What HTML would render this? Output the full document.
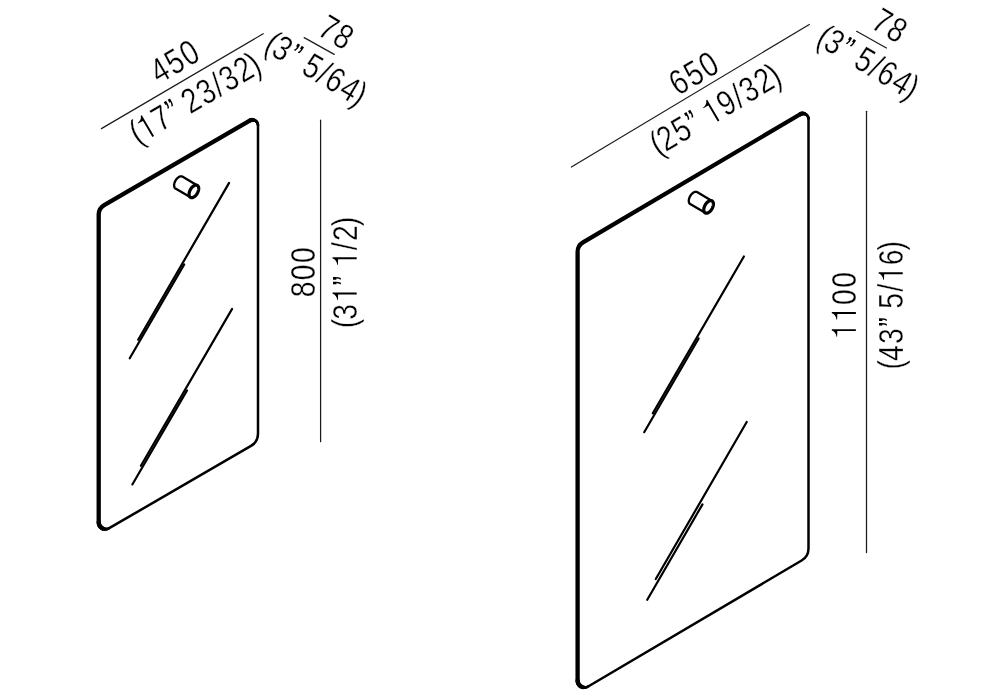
<!DOCTYPE html>
<html><head><meta charset="utf-8"><style>
html,body{margin:0;padding:0;background:#fff;width:1000px;height:700px;overflow:hidden}
svg{display:block;will-change:transform}
text{font-family:"Liberation Sans",sans-serif;fill:#000;stroke:#fff;stroke-width:0.35px}
</style></head><body>
<svg width="1000" height="700" viewBox="0 0 1000 700">
<path d="M98.70 214.54 C98.70 210.61 100.79 206.99 104.18 205.02 L249.74 120.60 C253.41 118.47 258.00 121.12 258.00 125.35 L258.00 433.84 C258.00 438.83 255.34 443.45 251.02 445.95 L109.21 528.20 C104.55 530.91 98.70 527.54 98.70 522.15 Z" fill="none" stroke="#000" stroke-width="2.50" stroke-linejoin="round"/><path d="M98.70 522.15 L98.70 214.54 C98.70 210.61 100.79 206.99 104.18 205.02 L249.74 120.60" fill="none" stroke="#000" stroke-width="4.30" stroke-linecap="round" stroke-linejoin="round"/><line x1="249.74" y1="120.60" x2="250.67" y2="120.16" stroke="#000" stroke-width="4.28" stroke-linecap="round"/><line x1="250.67" y1="120.16" x2="251.63" y2="119.92" stroke="#000" stroke-width="4.13" stroke-linecap="round"/><line x1="251.63" y1="119.92" x2="252.58" y2="119.85" stroke="#000" stroke-width="3.88" stroke-linecap="round"/><line x1="252.58" y1="119.85" x2="253.51" y2="119.94" stroke="#000" stroke-width="3.57" stroke-linecap="round"/><line x1="253.51" y1="119.94" x2="254.41" y2="120.19" stroke="#000" stroke-width="3.23" stroke-linecap="round"/><line x1="254.41" y1="120.19" x2="255.25" y2="120.59" stroke="#000" stroke-width="2.92" stroke-linecap="round"/><line x1="255.25" y1="120.59" x2="256.01" y2="121.12" stroke="#000" stroke-width="2.67" stroke-linecap="round"/><line x1="256.01" y1="121.12" x2="256.67" y2="121.76" stroke="#000" stroke-width="2.52" stroke-linecap="round"/><line x1="256.67" y1="121.76" x2="257.23" y2="122.52" stroke="#000" stroke-width="2.50" stroke-linecap="round"/><line x1="257.23" y1="122.52" x2="257.64" y2="123.38" stroke="#000" stroke-width="2.50" stroke-linecap="round"/><line x1="257.64" y1="123.38" x2="257.91" y2="124.33" stroke="#000" stroke-width="2.50" stroke-linecap="round"/><line x1="257.91" y1="124.33" x2="258.00" y2="125.35" stroke="#000" stroke-width="2.50" stroke-linecap="round"/><line x1="109.21" y1="528.20" x2="108.02" y2="528.76" stroke="#000" stroke-width="2.50" stroke-linecap="round"/><line x1="108.02" y1="528.76" x2="106.81" y2="529.07" stroke="#000" stroke-width="2.52" stroke-linecap="round"/><line x1="106.81" y1="529.07" x2="105.60" y2="529.16" stroke="#000" stroke-width="2.76" stroke-linecap="round"/><line x1="105.60" y1="529.16" x2="104.41" y2="529.03" stroke="#000" stroke-width="3.19" stroke-linecap="round"/><line x1="104.41" y1="529.03" x2="103.27" y2="528.72" stroke="#000" stroke-width="3.68" stroke-linecap="round"/><line x1="103.27" y1="528.72" x2="102.21" y2="528.21" stroke="#000" stroke-width="4.09" stroke-linecap="round"/><line x1="102.21" y1="528.21" x2="101.24" y2="527.54" stroke="#000" stroke-width="4.30" stroke-linecap="round"/><line x1="101.24" y1="527.54" x2="100.39" y2="526.72" stroke="#000" stroke-width="4.30" stroke-linecap="round"/><line x1="100.39" y1="526.72" x2="99.69" y2="525.75" stroke="#000" stroke-width="4.30" stroke-linecap="round"/><line x1="99.69" y1="525.75" x2="99.15" y2="524.66" stroke="#000" stroke-width="4.30" stroke-linecap="round"/><line x1="99.15" y1="524.66" x2="98.82" y2="523.45" stroke="#000" stroke-width="4.30" stroke-linecap="round"/><line x1="98.82" y1="523.45" x2="98.70" y2="522.15" stroke="#000" stroke-width="4.30" stroke-linecap="round"/>
<path d="M577.60 251.88 C577.60 247.99 579.66 244.39 583.01 242.41 L800.21 114.26 C803.87 112.10 808.50 114.74 808.50 119.00 L808.50 548.47 C808.50 553.43 805.88 558.01 801.61 560.53 L588.16 686.47 C583.49 689.22 577.60 685.86 577.60 680.44 Z" fill="none" stroke="#000" stroke-width="2.50" stroke-linejoin="round"/><path d="M577.60 680.44 L577.60 251.88 C577.60 247.99 579.66 244.39 583.01 242.41 L800.21 114.26" fill="none" stroke="#000" stroke-width="4.30" stroke-linecap="round" stroke-linejoin="round"/><line x1="800.21" y1="114.26" x2="801.14" y2="113.82" stroke="#000" stroke-width="4.28" stroke-linecap="round"/><line x1="801.14" y1="113.82" x2="802.09" y2="113.57" stroke="#000" stroke-width="4.13" stroke-linecap="round"/><line x1="802.09" y1="113.57" x2="803.05" y2="113.49" stroke="#000" stroke-width="3.88" stroke-linecap="round"/><line x1="803.05" y1="113.49" x2="803.99" y2="113.58" stroke="#000" stroke-width="3.57" stroke-linecap="round"/><line x1="803.99" y1="113.58" x2="804.88" y2="113.83" stroke="#000" stroke-width="3.23" stroke-linecap="round"/><line x1="804.88" y1="113.83" x2="805.73" y2="114.22" stroke="#000" stroke-width="2.92" stroke-linecap="round"/><line x1="805.73" y1="114.22" x2="806.49" y2="114.75" stroke="#000" stroke-width="2.67" stroke-linecap="round"/><line x1="806.49" y1="114.75" x2="807.16" y2="115.40" stroke="#000" stroke-width="2.52" stroke-linecap="round"/><line x1="807.16" y1="115.40" x2="807.72" y2="116.16" stroke="#000" stroke-width="2.50" stroke-linecap="round"/><line x1="807.72" y1="116.16" x2="808.14" y2="117.02" stroke="#000" stroke-width="2.50" stroke-linecap="round"/><line x1="808.14" y1="117.02" x2="808.41" y2="117.97" stroke="#000" stroke-width="2.50" stroke-linecap="round"/><line x1="808.41" y1="117.97" x2="808.50" y2="119.00" stroke="#000" stroke-width="2.50" stroke-linecap="round"/><line x1="588.16" y1="686.47" x2="586.97" y2="687.03" stroke="#000" stroke-width="2.50" stroke-linecap="round"/><line x1="586.97" y1="687.03" x2="585.75" y2="687.36" stroke="#000" stroke-width="2.52" stroke-linecap="round"/><line x1="585.75" y1="687.36" x2="584.54" y2="687.45" stroke="#000" stroke-width="2.76" stroke-linecap="round"/><line x1="584.54" y1="687.45" x2="583.35" y2="687.34" stroke="#000" stroke-width="3.19" stroke-linecap="round"/><line x1="583.35" y1="687.34" x2="582.20" y2="687.02" stroke="#000" stroke-width="3.68" stroke-linecap="round"/><line x1="582.20" y1="687.02" x2="581.13" y2="686.52" stroke="#000" stroke-width="4.09" stroke-linecap="round"/><line x1="581.13" y1="686.52" x2="580.15" y2="685.85" stroke="#000" stroke-width="4.30" stroke-linecap="round"/><line x1="580.15" y1="685.85" x2="579.30" y2="685.03" stroke="#000" stroke-width="4.30" stroke-linecap="round"/><line x1="579.30" y1="685.03" x2="578.59" y2="684.06" stroke="#000" stroke-width="4.30" stroke-linecap="round"/><line x1="578.59" y1="684.06" x2="578.06" y2="682.96" stroke="#000" stroke-width="4.30" stroke-linecap="round"/><line x1="578.06" y1="682.96" x2="577.72" y2="681.75" stroke="#000" stroke-width="4.30" stroke-linecap="round"/><line x1="577.72" y1="681.75" x2="577.60" y2="680.44" stroke="#000" stroke-width="4.30" stroke-linecap="round"/>
<path d="M175.47 188.53 L175.22 188.35 L174.98 188.14 L174.78 187.90 L174.59 187.62 L174.44 187.31 L174.31 186.97 L174.21 186.61 L174.14 186.22 L174.10 185.80 L174.08 185.37 L174.10 184.92 L174.15 184.46 L174.23 183.98 L174.33 183.50 L174.47 183.01 L174.63 182.51 L174.81 182.02 L175.03 181.53 L175.26 181.05 L175.52 180.58 L175.80 180.11 L176.10 179.67 L176.42 179.24 L176.75 178.83 L177.10 178.45 L177.45 178.09 L177.82 177.76 L178.19 177.45 L178.57 177.18 L178.94 176.95 L179.32 176.74 L179.70 176.58 L180.07 176.45 L180.43 176.36 L180.79 176.30 L181.13 176.29 L181.46 176.31 L181.77 176.37 L182.07 176.47 L182.34 176.61 M175.47 188.53 L190.46 197.36 M182.34 176.61 L197.34 185.44" fill="none" stroke="#000" stroke-width="2.30" stroke-linecap="round" stroke-linejoin="round"/><path d="M198.72 188.55 L198.70 189.16 L198.62 189.78 L198.49 190.42 L198.31 191.08 L198.08 191.74 L197.80 192.39 L197.48 193.03 L197.13 193.66 L196.73 194.26 L196.31 194.83 L195.86 195.36 L195.39 195.85 L194.90 196.29 L194.40 196.67 L193.90 197.00 L193.40 197.27 L192.90 197.47 L192.41 197.61 L191.94 197.67 L191.49 197.67 L191.07 197.60 L190.67 197.47 L190.32 197.26 L190.00 196.99 L189.72 196.66 L189.49 196.28 L189.31 195.84 L189.18 195.35 L189.10 194.82 L189.08 194.25 L189.10 193.64 L189.18 193.02 L189.31 192.38 L189.49 191.72 L189.72 191.06 L190.00 190.41 L190.32 189.77 L190.67 189.14 L191.07 188.54 L191.49 187.97 L191.94 187.44 L192.41 186.95 L192.90 186.51 L193.40 186.13 L193.90 185.80 L194.40 185.53 L194.90 185.33 L195.39 185.19 L195.86 185.13 L196.31 185.13 L196.73 185.20 L197.13 185.33 L197.48 185.54 L197.80 185.81 L198.08 186.14 L198.31 186.52 L198.49 186.96 L198.62 187.45 L198.70 187.98 Z" fill="#fff" stroke="#000" stroke-width="3.20"/>
<path d="M690.17 204.03 L689.92 203.85 L689.68 203.64 L689.48 203.40 L689.29 203.12 L689.14 202.81 L689.01 202.47 L688.91 202.11 L688.84 201.72 L688.80 201.30 L688.78 200.87 L688.80 200.42 L688.85 199.96 L688.93 199.48 L689.03 199.00 L689.17 198.51 L689.33 198.01 L689.51 197.52 L689.73 197.03 L689.96 196.55 L690.22 196.08 L690.50 195.61 L690.80 195.17 L691.12 194.74 L691.45 194.33 L691.80 193.95 L692.15 193.59 L692.52 193.26 L692.89 192.95 L693.27 192.68 L693.64 192.45 L694.02 192.24 L694.40 192.08 L694.77 191.95 L695.13 191.86 L695.49 191.80 L695.83 191.79 L696.16 191.81 L696.47 191.87 L696.77 191.97 L697.04 192.11 M690.17 204.03 L705.16 212.86 M697.04 192.11 L712.04 200.94" fill="none" stroke="#000" stroke-width="2.30" stroke-linecap="round" stroke-linejoin="round"/><path d="M713.42 204.05 L713.40 204.66 L713.32 205.28 L713.19 205.92 L713.01 206.58 L712.78 207.24 L712.50 207.89 L712.18 208.53 L711.83 209.16 L711.43 209.76 L711.01 210.33 L710.56 210.86 L710.09 211.35 L709.60 211.79 L709.10 212.17 L708.60 212.50 L708.10 212.77 L707.60 212.97 L707.11 213.11 L706.64 213.17 L706.19 213.17 L705.77 213.10 L705.37 212.97 L705.02 212.76 L704.70 212.49 L704.42 212.16 L704.19 211.78 L704.01 211.34 L703.88 210.85 L703.80 210.32 L703.78 209.75 L703.80 209.14 L703.88 208.52 L704.01 207.88 L704.19 207.22 L704.42 206.56 L704.70 205.91 L705.02 205.27 L705.37 204.64 L705.77 204.04 L706.19 203.47 L706.64 202.94 L707.11 202.45 L707.60 202.01 L708.10 201.63 L708.60 201.30 L709.10 201.03 L709.60 200.83 L710.09 200.69 L710.56 200.63 L711.01 200.63 L711.43 200.70 L711.83 200.83 L712.18 201.04 L712.50 201.31 L712.78 201.64 L713.01 202.02 L713.19 202.46 L713.32 202.95 L713.40 203.48 Z" fill="#fff" stroke="#000" stroke-width="3.20"/>
<line x1="229.10" y1="182.90" x2="138.20" y2="339.70" stroke="#000" stroke-width="2.20" stroke-linecap="round"/>
<line x1="184.20" y1="264.34" x2="129.74" y2="358.28" stroke="#000" stroke-width="2.20" stroke-linecap="round"/>
<line x1="232.10" y1="308.90" x2="140.90" y2="465.80" stroke="#000" stroke-width="2.20" stroke-linecap="round"/>
<line x1="187.04" y1="390.40" x2="132.36" y2="484.47" stroke="#000" stroke-width="2.20" stroke-linecap="round"/>
<line x1="743.90" y1="256.50" x2="652.80" y2="413.40" stroke="#000" stroke-width="2.20" stroke-linecap="round"/>
<line x1="698.64" y1="338.43" x2="644.20" y2="432.19" stroke="#000" stroke-width="2.20" stroke-linecap="round"/>
<line x1="746.70" y1="422.00" x2="655.80" y2="579.00" stroke="#000" stroke-width="2.20" stroke-linecap="round"/>
<line x1="702.50" y1="504.33" x2="647.26" y2="599.74" stroke="#000" stroke-width="2.20" stroke-linecap="round"/>
<line x1="101.40" y1="128.60" x2="263.20" y2="33.75" stroke="#1c1c1c" stroke-width="1.25" stroke-linecap="round"/>
<line x1="571.40" y1="167.00" x2="809.30" y2="24.50" stroke="#1c1c1c" stroke-width="1.25" stroke-linecap="round"/>
<line x1="304.20" y1="37.60" x2="334.20" y2="54.40" stroke="#1c1c1c" stroke-width="1.25" stroke-linecap="round"/>
<line x1="856.60" y1="31.30" x2="886.40" y2="48.00" stroke="#1c1c1c" stroke-width="1.25" stroke-linecap="round"/>
<line x1="320.60" y1="120.20" x2="320.60" y2="441.70" stroke="#1c1c1c" stroke-width="1.25" stroke-linecap="round"/>
<line x1="866.50" y1="111.30" x2="866.50" y2="552.60" stroke="#1c1c1c" stroke-width="1.25" stroke-linecap="round"/>
<g transform="translate(174.20 61.40) rotate(-30.54) scale(0.810 1)"><text x="-30.64 -9.45 11.74" y="12.22" font-size="35.0">450</text></g>
<g transform="translate(194.60 97.80) rotate(-30.54) scale(0.810 1)"><text x="-89.92 -58.31 -15.00 6.20 27.39 38.84 60.04 78.27" y="12.22" font-size="35.0">(723/32)</text><text x="-37.12" y="12.22" font-size="35.0" style="stroke:none">&#8221;</text><path transform="translate(-79.50 12.22) scale(0.01709 -0.01709)" d="M590 0L730 0L730 1409L640 1409Q560 1180 185 1130Q160 1115 190 1098Q380 1090 590 1085Z"/></g>
<g transform="translate(336.60 31.90) rotate(30.80) scale(0.810 1)"><text x="-20.47 0.73" y="12.22" font-size="35.0">78</text></g>
<g transform="translate(316.60 68.30) rotate(30.80) scale(0.810 1)"><text x="-68.73 -58.31 -15.00 6.20 17.65 38.84 57.08" y="12.22" font-size="35.0">(35/64)</text><text x="-37.12" y="12.22" font-size="35.0" style="stroke:none">&#8221;</text></g>
<g transform="translate(302.90 272.25) rotate(-90.00) scale(0.810 1)"><text x="-31.00 -9.81 11.38" y="12.22" font-size="35.0">800</text></g>
<g transform="translate(344.45 272.50) rotate(-90.00) scale(0.810 1)"><text x="-68.73 -58.31 27.39 38.84 57.08" y="12.22" font-size="35.0">(3/2)</text><text x="-15.92" y="12.22" font-size="35.0" style="stroke:none">&#8221;</text><path transform="translate(-37.12 12.22) scale(0.01709 -0.01709)" d="M590 0L730 0L730 1409L640 1409Q560 1180 185 1130Q160 1115 190 1098Q380 1090 590 1085Z"/><path transform="translate(6.20 12.22) scale(0.01709 -0.01709)" d="M590 0L730 0L730 1409L640 1409Q560 1180 185 1130Q160 1115 190 1098Q380 1090 590 1085Z"/></g>
<g transform="translate(693.60 72.80) rotate(-30.54) scale(0.810 1)"><text x="-31.13 -9.94 11.26" y="12.22" font-size="35.0">650</text></g>
<g transform="translate(715.00 109.00) rotate(-30.54) scale(0.810 1)"><text x="-89.92 -79.50 -58.31 6.20 27.39 38.84 60.04 78.27" y="12.22" font-size="35.0">(259/32)</text><text x="-37.12" y="12.22" font-size="35.0" style="stroke:none">&#8221;</text><path transform="translate(-15.00 12.22) scale(0.01709 -0.01709)" d="M590 0L730 0L730 1409L640 1409Q560 1180 185 1130Q160 1115 190 1098Q380 1090 590 1085Z"/></g>
<g transform="translate(889.90 25.20) rotate(30.80) scale(0.810 1)"><text x="-20.47 0.73" y="12.22" font-size="35.0">78</text></g>
<g transform="translate(868.60 61.70) rotate(30.80) scale(0.810 1)"><text x="-68.73 -58.31 -15.00 6.20 17.65 38.84 57.08" y="12.22" font-size="35.0">(35/64)</text><text x="-37.12" y="12.22" font-size="35.0" style="stroke:none">&#8221;</text></g>
<g transform="translate(843.65 305.10) rotate(-90.00) scale(0.810 1)"><text x="0.21 21.41" y="12.22" font-size="35.0">00</text><path transform="translate(-42.17 12.22) scale(0.01709 -0.01709)" d="M590 0L730 0L730 1409L640 1409Q560 1180 185 1130Q160 1115 190 1098Q380 1090 590 1085Z"/><path transform="translate(-20.98 12.22) scale(0.01709 -0.01709)" d="M590 0L730 0L730 1409L640 1409Q560 1180 185 1130Q160 1115 190 1098Q380 1090 590 1085Z"/></g>
<g transform="translate(890.50 305.25) rotate(-90.00) scale(0.810 1)"><text x="-79.33 -68.91 -47.71 -4.40 16.79 49.44 67.67" y="12.22" font-size="35.0">(435/6)</text><text x="-26.52" y="12.22" font-size="35.0" style="stroke:none">&#8221;</text><path transform="translate(28.25 12.22) scale(0.01709 -0.01709)" d="M590 0L730 0L730 1409L640 1409Q560 1180 185 1130Q160 1115 190 1098Q380 1090 590 1085Z"/></g>
</svg></body></html>
